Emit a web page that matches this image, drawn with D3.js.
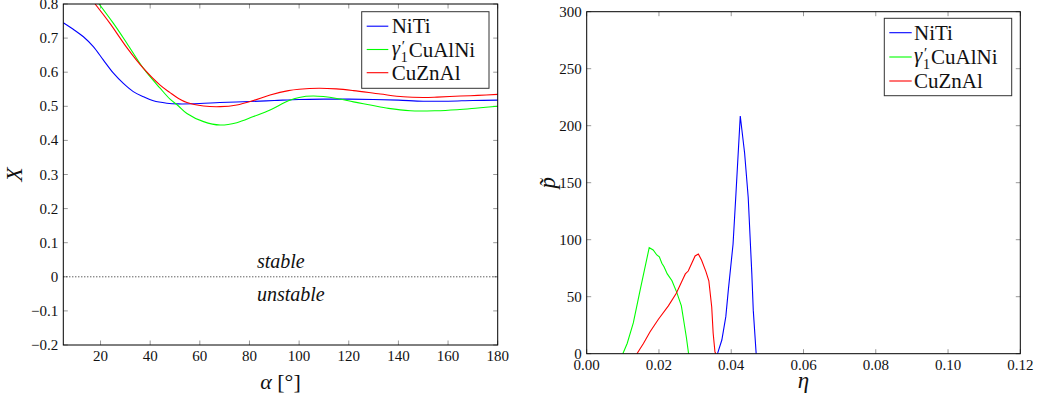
<!DOCTYPE html>
<html><head><meta charset="utf-8">
<script src="https://cdn.jsdelivr.net/npm/d3@7"></script>
<style>
body{margin:0;background:#fff;}
svg{display:block;}
</style></head><body>
<svg id="c" width="1039" height="400"></svg>
<script>
// ---- Left panel data: X vs alpha ----
const nitiAlpha = [5,9,13.1,17.1,21.1,25.2,29.2,33.2,37.3,41.3,46.7,51.4,60,68,80,90,100,110,120,130,140,150,160,170,180];
const nitiX     = [0.745,0.726,0.704,0.675,0.636,0.597,0.567,0.543,0.528,0.516,0.509,0.507,0.508,0.511,0.514,0.517,0.520,0.521,0.521,0.520,0.518,0.515,0.515,0.517,0.518];
const cualniAlpha = [19.4,25.2,30.6,37.3,44,48,51.4,54.8,61.5,68.2,74.9,81.6,88.3,95.7,100,105.8,115.2,121.9,128.7,136,144.8,155,163.6,172,180];
const cualniX     = [0.8,0.743,0.685,0.611,0.553,0.521,0.501,0.479,0.455,0.445,0.452,0.470,0.489,0.516,0.526,0.530,0.523,0.513,0.504,0.494,0.487,0.487,0.490,0.495,0.500];
const cuznalAlpha = [17.8,23.8,30.6,37.3,44,48,51.4,54.8,61.5,68.2,74.9,81.6,88.3,95.7,100,108,115,121.9,132.7,142,150,155.6,165,172,180];
const cuznalX     = [0.8,0.743,0.672,0.611,0.562,0.540,0.523,0.511,0.501,0.499,0.504,0.517,0.533,0.546,0.550,0.553,0.551,0.546,0.536,0.528,0.526,0.527,0.530,0.532,0.535];
const leftXTicks = [20,40,60,80,100,120,140,160,180];
const leftYTicks = [-0.2,-0.1,0,0.1,0.2,0.3,0.4,0.5,0.6,0.7,0.8];

// ---- Right panel data: p~ vs eta ----
const nitiEta = [0.0362,0.0374,0.0385,0.0392,0.0405,0.0413,0.0425,0.0437,0.0447,0.0457,0.0461,0.0469];
const nitiP   = [0,12,32.5,56,96,140,208.5,176,137,70,38,0];
const cualniEta = [0.0100,0.0112,0.0129,0.0148,0.0173,0.0184,0.0194,0.0201,0.0208,0.0214,0.0223,0.0236,0.0249,0.0262,0.0268,0.0276,0.0282];
const cualniP   = [0,9,27,56,93,91,86.6,85,79.3,76.3,70,64,54,42,30,14,0];
const cuznalEta = [0.0139,0.0157,0.0175,0.0198,0.0226,0.0248,0.0267,0.0273,0.0281,0.0300,0.0309,0.0318,0.0330,0.0338,0.0346,0.0350,0.0355,0.0358];
const cuznalP   = [0,9,19,30,42,53,66,70,72.5,85.7,87.5,82,72,64,41,18,1.5,0];
const rightXTicks = [0,0.02,0.04,0.06,0.08,0.10,0.12];
const rightYTicks = [0,50,100,150,200,250,300];

const colors = {niti:"#0000ff", cualni:"#00ff00", cuznal:"#ff0000"};
const FONT = "Liberation Serif";
const svg = d3.select("#c");
const tickColor = "#999";
const fs = 15;

function T(sel){ return sel.append("text").attr("font-family", FONT).attr("fill","#111"); }
function fmtMinus(s){ return s.replace("-", "\u2212"); }

function panel(opt){
  const g = svg.append("g");
  const x = d3.scaleLinear().domain(opt.xd).range([opt.x0, opt.x1]);
  const y = d3.scaleLinear().domain(opt.yd).range([opt.y1, opt.y0]);
  const clipId = "clip" + opt.id;
  svg.append("clipPath").attr("id", clipId).append("rect")
    .attr("x", opt.x0).attr("y", opt.y0).attr("width", opt.x1-opt.x0).attr("height", opt.y1-opt.y0);
  const tl = 4.5;
  opt.xt.forEach(t=>{
    g.append("line").attr("x1",x(t)).attr("x2",x(t)).attr("y1",opt.y1).attr("y2",opt.y1-tl).attr("stroke",tickColor);
    g.append("line").attr("x1",x(t)).attr("x2",x(t)).attr("y1",opt.y0).attr("y2",opt.y0+tl).attr("stroke",tickColor);
    T(g).attr("x",x(t)).attr("y",opt.y1+16).attr("text-anchor","middle")
      .attr("font-size",fs).text(fmtMinus(opt.xf(t)));
  });
  opt.yt.forEach(t=>{
    g.append("line").attr("x1",opt.x0).attr("x2",opt.x0+tl).attr("y1",y(t)).attr("y2",y(t)).attr("stroke",tickColor);
    g.append("line").attr("x1",opt.x1).attr("x2",opt.x1-tl).attr("y1",y(t)).attr("y2",y(t)).attr("stroke",tickColor);
    T(g).attr("x",opt.x0-5).attr("y",y(t)+5).attr("text-anchor","end")
      .attr("font-size",fs).text(fmtMinus(opt.yf(t)));
  });
  const line = d3.line().x(d=>x(d[0])).y(d=>y(d[1])).curve(opt.curve);
  const lg = g.append("g").attr("clip-path", `url(#${clipId})`);
  opt.series.forEach(s=>{
    lg.append("path").datum(s.xs.map((v,i)=>[v, s.ys[i]]))
      .attr("d", line).attr("fill","none").attr("stroke", s.color).attr("stroke-width",1.1);
  });
  g.append("rect").attr("x",opt.x0).attr("y",opt.y0).attr("width",opt.x1-opt.x0).attr("height",opt.y1-opt.y0)
    .attr("fill","none").attr("stroke","#000").attr("stroke-width",1);
  return {g, x, y};
}

function legend(g, lx, ly, w, h, rowY, lineX0, lineX1, textX){
  g.append("rect").attr("x",lx).attr("y",ly).attr("width",w).attr("height",h)
    .attr("fill","#fff").attr("stroke","#333").attr("stroke-width",1);
  const keys = ["niti","cualni","cuznal"];
  keys.forEach((k,i)=>{
    const yy = ly + rowY[i];
    g.append("line").attr("x1",lineX0).attr("x2",lineX1).attr("y1",yy).attr("y2",yy)
      .attr("stroke",colors[k]).attr("stroke-width",1.1);
    if(k==="cualni"){
      T(g).attr("x",textX).attr("y",yy+5).attr("font-size",21).attr("font-style","italic").text("γ");
      T(g).attr("x",textX+10).attr("y",yy+1).attr("font-size",15).text("′");
      T(g).attr("x",textX+9).attr("y",yy+12).attr("font-size",14).text("1");
      T(g).attr("x",textX+17).attr("y",yy+7).attr("font-size",21).text("CuAlNi");
    } else {
      T(g).attr("x",textX).attr("y",yy+7).attr("font-size",21)
        .text(k==="niti" ? "NiTi" : "CuZnAl");
    }
  });
}

// Left panel
const L = panel({id:"L", x0:63.3, x1:497.7, y0:4, y1:345, xd:[5,180], yd:[-0.2,0.8],
  xt:leftXTicks, yt:leftYTicks, xf:d=>String(d), yf:d=>d===0?"0":d3.format(".1f")(d),
  curve:d3.curveCatmullRom.alpha(0.5),
  series:[
    {xs:nitiAlpha, ys:nitiX, color:colors.niti},
    {xs:cualniAlpha, ys:cualniX, color:colors.cualni},
    {xs:cuznalAlpha, ys:cuznalX, color:colors.cuznal}
  ]});
L.g.append("line").attr("x1",L.x(5)).attr("x2",L.x(180)).attr("y1",L.y(0)).attr("y2",L.y(0))
  .attr("stroke","#000").attr("stroke-width",0.9).attr("stroke-dasharray","1,2");
T(L.g).attr("x",L.x(83)).attr("y",L.y(0.025)).attr("font-size",20).attr("font-style","italic").text("stable");
T(L.g).attr("x",L.x(83)).attr("y",L.y(-0.071)).attr("font-size",20).attr("font-style","italic").text("unstable");
legend(L.g, 361.7, 11.7, 127.3, 76.6, [14.5, 37.8, 61], 366.7, 388.3, 391.7);
T(L.g).attr("transform","translate(22,174.5) rotate(-90)").attr("text-anchor","middle")
  .attr("font-size",23).attr("font-style","italic").text("X");
const al = T(L.g).attr("x",280.5).attr("y",389).attr("text-anchor","middle").attr("font-size",22);
al.append("tspan").attr("font-style","italic").text("α");
al.append("tspan").text(" [°]");

// Right panel
const R = panel({id:"R", x0:586.7, x1:1020.3, y0:11.7, y1:353.7, xd:[0,0.12], yd:[0,300],
  xt:rightXTicks, yt:rightYTicks, xf:d=>d3.format(".2f")(d), yf:d=>String(d),
  curve:d3.curveLinear,
  series:[
    {xs:nitiEta, ys:nitiP, color:colors.niti},
    {xs:cualniEta, ys:cualniP, color:colors.cualni},
    {xs:cuznalEta, ys:cuznalP, color:colors.cuznal}
  ]});
legend(R.g, 884.3, 18.3, 127.4, 77.4, [14.4, 38.7, 62.7], 889.3, 911.7, 914);
T(R.g).attr("x",803.5).attr("y",388).attr("text-anchor","middle")
  .attr("font-size",23).attr("font-style","italic").text("η");
T(R.g).attr("transform","translate(555,182.7) rotate(-90)").attr("text-anchor","middle")
  .attr("font-size",23).attr("font-style","italic").text("p\u0303");
</script>
</body></html>
